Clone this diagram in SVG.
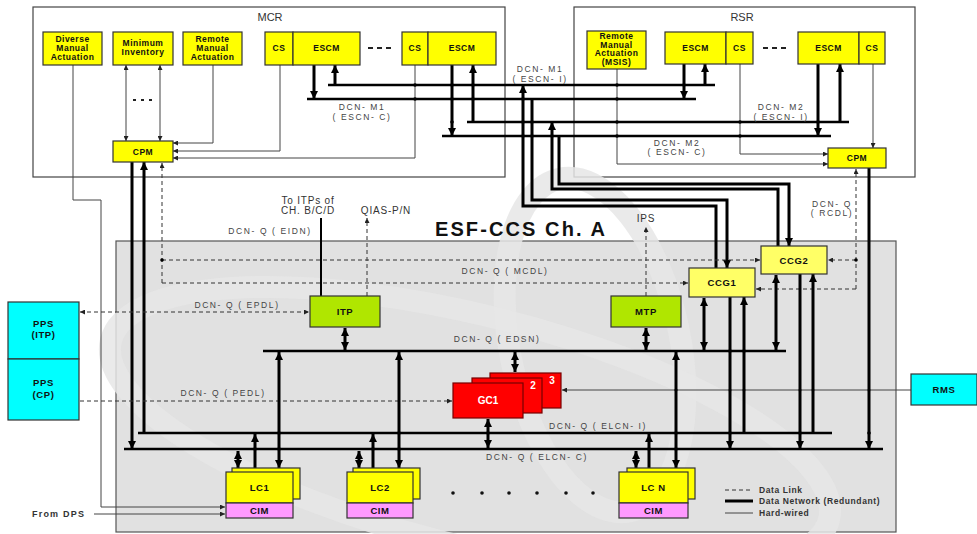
<svg xmlns="http://www.w3.org/2000/svg" width="977" height="534" viewBox="0 0 977 534">
<defs>
<marker id="ah" viewBox="0 0 10 10" refX="10" refY="5" markerWidth="8" markerHeight="8" markerUnits="userSpaceOnUse" orient="auto-start-reverse"><path d="M0,0L10,5L0,10z" fill="#000"/></marker>
<marker id="as" viewBox="0 0 10 10" refX="10" refY="5" markerWidth="5" markerHeight="5" markerUnits="userSpaceOnUse" orient="auto-start-reverse"><path d="M0,0L10,5L0,10z" fill="#222"/></marker>
</defs>
<style>
text{font-family:"Liberation Sans",Arial,sans-serif}
.frame{fill:#fff;stroke:#444;stroke-width:1.2}
.y{fill:#ffff00;stroke:#333;stroke-width:1.2}
.ly{fill:#ffff66;stroke:#333;stroke-width:1.2}
.g{fill:#b0e600;stroke:#333;stroke-width:1.2}
.c{fill:#00ffff;stroke:#333;stroke-width:1.2}
.r{fill:#ff0000;stroke:#700;stroke-width:1.2}
.p{fill:#ff99ff;stroke:#333;stroke-width:1.2}
.bt{font-size:8.5px;font-weight:bold;fill:#111;text-anchor:middle;letter-spacing:0.5px}
.bt2{font-size:9.5px;font-weight:bold;fill:#111;text-anchor:middle;letter-spacing:0.6px}
.wt{font-size:10px;font-weight:bold;fill:#fff;text-anchor:middle}
.lb{font-size:8.5px;fill:#444;text-anchor:middle;letter-spacing:1.6px}
.tl{font-size:10px;fill:#333;text-anchor:middle;letter-spacing:0.8px}
.lg{font-size:8.5px;font-weight:bold;fill:#333;letter-spacing:0.6px}
.tk{stroke:#000;stroke-width:3;fill:none}
.bus{stroke:#000;stroke-width:2.5;fill:none}
.tn{stroke:#444;stroke-width:1;fill:none}
.ds{stroke:#333;stroke-width:1;fill:none;stroke-dasharray:4 3}
.ae{marker-end:url(#ah)}
.as{marker-start:url(#ah)}
.ab{marker-start:url(#ah);marker-end:url(#ah)}
.se{marker-end:url(#as)}
.sb{marker-start:url(#as);marker-end:url(#as)}
.wm{fill:none;stroke:#e6e6e6;stroke-width:22;opacity:0.85}
</style>
<rect x="0" y="0" width="977" height="534" fill="#fff"/>

<g id="frames">
<rect class="frame" x="33" y="7" width="472" height="170"/>
<rect class="frame" x="574" y="7" width="341" height="170"/>
<rect x="116" y="241" width="780" height="291" fill="#e1e1e1" stroke="#555" stroke-width="1.2"/>
<text x="270" y="21" font-size="11" fill="#333" text-anchor="middle">MCR</text>
<text x="742" y="21" font-size="11" fill="#333" text-anchor="middle">RSR</text>
</g>

<g id="watermark">
<ellipse class="wm" cx="595" cy="345" rx="85" ry="170" transform="rotate(-12 595 345)"/>
<ellipse class="wm" cx="470" cy="430" rx="370" ry="115" transform="rotate(14 470 430)"/>
</g>

<text x="520" y="236" font-size="20" font-weight="bold" fill="#111" text-anchor="middle" textLength="170" lengthAdjust="spacing">ESF-CCS Ch. A</text>

<g id="connectors">
<polyline class="tn se" points="73,65 73,200 101,200 101,507 225,507"/>
<line class="tn sb" x1="126" y1="65" x2="126" y2="141"/>
<line class="tn sb" x1="160" y1="65" x2="160" y2="141"/>
<line x1="133" y1="100" x2="156" y2="100" stroke="#222" stroke-width="2" stroke-dasharray="3 5"/>
<polyline class="tn se" points="213,65 213,143 173,143"/>
<polyline class="tn se" points="280,65 280,151 173,151"/>
<polyline class="tn se" points="415,65 415,158 173,158"/>
<line class="tk ae" x1="314" y1="65" x2="314" y2="99"/>
<line class="tk ae" x1="335" y1="85" x2="335" y2="65"/>
<line class="tk ae" x1="452" y1="65" x2="452" y2="136"/>
<line class="tk ae" x1="473" y1="122" x2="473" y2="65"/>
<line x1="368" y1="48" x2="393" y2="48" stroke="#222" stroke-width="2" stroke-dasharray="5 4"/>
<line x1="763" y1="48" x2="788" y2="48" stroke="#222" stroke-width="2" stroke-dasharray="5 4"/>
<line class="bus" x1="328" y1="85" x2="715" y2="85"/>
<line class="bus" x1="307" y1="99" x2="696" y2="99"/>
<line class="bus" x1="467" y1="122" x2="849" y2="122"/>
<line class="bus" x1="442" y1="136" x2="831" y2="136"/>
<polyline class="tn se" points="617,69 617,164 828,164"/>
<polyline class="tn se" points="740,64 740,154 828,154"/>
<line class="tn se" x1="873" y1="64" x2="873" y2="148"/>
<line class="tk ae" x1="684" y1="64" x2="684" y2="99"/>
<line class="tk ae" x1="705" y1="85" x2="705" y2="64"/>
<line class="tk ae" x1="818" y1="64" x2="818" y2="136"/>
<line class="tk ae" x1="840" y1="122" x2="840" y2="64"/>
<polyline class="tk as" points="523,85 523,206 716,206 716,268"/>
<polyline class="tk ae" points="532,99 532,200 727,200 727,268"/>
<polyline class="tk as" points="552,122 552,189 778,189 778,246"/>
<polyline class="tk ae" points="559,136 559,184 789,184 789,246"/>
<line class="tk ae" x1="132" y1="162" x2="132" y2="449"/>
<line class="tk ae" x1="144" y1="433" x2="144" y2="162"/>
<line class="tk ae" x1="869" y1="168" x2="869" y2="449"/>
<line class="ds se" x1="162" y1="283" x2="162" y2="163"/>
<line class="ds se" x1="162" y1="283" x2="688" y2="283"/>
<line class="ds se" x1="162" y1="260" x2="760" y2="260"/>
<line class="ds se" x1="856" y1="289" x2="856" y2="169"/>
<line class="ds se" x1="856" y1="289" x2="756" y2="289"/>
<line class="ds se" x1="856" y1="260" x2="828" y2="260"/>
<line x1="321" y1="218" x2="321" y2="296" stroke="#000" stroke-width="2"/>
<line class="ds se" x1="367" y1="296" x2="367" y2="218"/>
<line class="ds sb" x1="80" y1="312" x2="309" y2="312"/>
<line class="ds se" x1="80" y1="401" x2="452" y2="401"/>
<line class="ds se" x1="646" y1="296" x2="646" y2="227"/>
<line class="bus" x1="263" y1="351" x2="786" y2="351"/>
<line class="bus" x1="138" y1="433" x2="832" y2="433"/>
<line class="bus" x1="124" y1="449" x2="883" y2="449"/>
<line class="tk ab" x1="345" y1="328" x2="345" y2="350"/>
<line class="tk ab" x1="646" y1="328" x2="646" y2="350"/>
<line class="tk ab" x1="704" y1="298" x2="704" y2="350"/>
<line class="tk ab" x1="776" y1="275" x2="776" y2="350"/>
<line class="tk ab" x1="515" y1="352" x2="515" y2="372"/>
<line class="tk ab" x1="488" y1="419" x2="488" y2="448"/>
<line class="tk ae" x1="730" y1="297" x2="730" y2="449"/>
<line class="tk ae" x1="744" y1="433" x2="744" y2="297"/>
<line class="tk ae" x1="800" y1="274" x2="800" y2="449"/>
<line class="tk ae" x1="813" y1="433" x2="813" y2="274"/>
<line class="tn se" x1="911" y1="390" x2="562" y2="390"/>
<line class="tk ab" x1="238" y1="451" x2="238" y2="468"/>
<line class="tk ae" x1="255" y1="468" x2="255" y2="434"/>
<line class="tk ab" x1="279" y1="352" x2="279" y2="468"/>
<line class="tk ab" x1="359" y1="451" x2="359" y2="468"/>
<line class="tk ae" x1="373" y1="468" x2="373" y2="434"/>
<line class="tk ab" x1="399" y1="352" x2="399" y2="468"/>
<line class="tk ab" x1="636" y1="451" x2="636" y2="468"/>
<line class="tk ae" x1="649" y1="468" x2="649" y2="434"/>
<line class="tk ab" x1="676" y1="352" x2="676" y2="468"/>
<line class="tn se" x1="94" y1="514" x2="225" y2="514"/>
<g fill="#000">
<circle cx="415" cy="85" r="1.8"/><circle cx="415" cy="99" r="1.8"/>
<circle cx="452" cy="85" r="1.8"/><circle cx="452" cy="99" r="1.8"/><circle cx="452" cy="122" r="1.8"/>
<circle cx="473" cy="85" r="1.8"/><circle cx="473" cy="99" r="1.8"/>
<circle cx="617" cy="85" r="1.8"/><circle cx="617" cy="99" r="1.8"/><circle cx="617" cy="122" r="1.8"/><circle cx="617" cy="136" r="1.8"/>
<circle cx="740" cy="122" r="1.8"/><circle cx="740" cy="136" r="1.8"/>
<circle cx="684" cy="85" r="1.8"/><circle cx="818" cy="122" r="1.8"/>
<circle cx="523" cy="99" r="1.8"/><circle cx="523" cy="122" r="1.8"/><circle cx="523" cy="136" r="1.8"/>
<circle cx="532" cy="122" r="1.8"/><circle cx="532" cy="136" r="1.8"/><circle cx="552" cy="136" r="1.8"/>
<circle cx="162" cy="260" r="1.8"/><circle cx="856" cy="260" r="1.8"/>
<circle cx="730" cy="351" r="1.8"/><circle cx="744" cy="351" r="1.8"/>
<circle cx="279" cy="433" r="1.8"/><circle cx="399" cy="433" r="1.8"/><circle cx="676" cy="433" r="1.8"/>
<circle cx="730" cy="433" r="1.8"/><circle cx="800" cy="433" r="1.8"/><circle cx="869" cy="433" r="1.8"/><circle cx="488" cy="433" r="1.8"/>
<circle cx="255" cy="449" r="1.8"/><circle cx="373" cy="449" r="1.8"/><circle cx="649" cy="449" r="1.8"/>
<circle cx="279" cy="449" r="1.8"/><circle cx="399" cy="449" r="1.8"/><circle cx="676" cy="449" r="1.8"/>
<circle cx="676" cy="390" r="1.5"/><circle cx="730" cy="390" r="1.5"/><circle cx="744" cy="390" r="1.5"/>
<circle cx="800" cy="390" r="1.5"/><circle cx="813" cy="390" r="1.5"/><circle cx="869" cy="390" r="1.5"/>
</g>
</g>

<g id="labels">
<text class="lb" x="540" y="72">DCN- M1</text>
<text class="lb" x="540" y="82">( ESCN- I)</text>
<text class="lb" x="362" y="110">DCN- M1</text>
<text class="lb" x="362" y="120">( ESCN- C)</text>
<text class="lb" x="781" y="110">DCN- M2</text>
<text class="lb" x="781" y="120">( ESCN- I)</text>
<text class="lb" x="677" y="146">DCN- M2</text>
<text class="lb" x="677" y="155">( ESCN- C)</text>
<text class="lb" x="832" y="207">DCN- Q</text>
<text class="lb" x="832" y="216">( RCDL)</text>
<text class="lb" x="270" y="234">DCN- Q ( EIDN)</text>
<text class="tl" x="308" y="204">To ITPs of</text>
<text class="tl" x="308" y="214">CH. B/C/D</text>
<text class="tl" x="386" y="214">QIAS-P/N</text>
<text class="tl" x="646" y="222">IPS</text>
<text class="lb" x="505" y="274">DCN- Q ( MCDL)</text>
<text class="lb" x="237" y="308">DCN- Q ( EPDL)</text>
<text class="lb" x="497" y="342">DCN- Q ( EDSN)</text>
<text class="lb" x="223" y="396">DCN- Q ( PEDL)</text>
<text class="lb" x="598" y="429">DCN- Q ( ELCN- I)</text>
<text class="lb" x="537" y="460">DCN- Q ( ELCN- C)</text>
<text x="32" y="517" font-size="9" font-weight="bold" fill="#333" letter-spacing="1.2">From DPS</text>
</g>

<g id="n-diverse"><rect class="y" x="43" y="32" width="59" height="33"/>
<text class="bt" x="72.5" y="42">Diverse</text><text class="bt" x="72.5" y="51">Manual</text><text class="bt" x="72.5" y="60">Actuation</text></g>
<g id="n-mininv"><rect class="y" x="113" y="32" width="60" height="33"/>
<text class="bt" x="143" y="46">Minimum</text><text class="bt" x="143" y="55">Inventory</text></g>
<g id="n-rma"><rect class="y" x="183" y="32" width="59" height="33"/>
<text class="bt" x="212.5" y="42">Remote</text><text class="bt" x="212.5" y="51">Manual</text><text class="bt" x="212.5" y="60">Actuation</text></g>
<g id="n-cs1"><rect class="y" x="265" y="32" width="28" height="33"/><text class="bt" x="279" y="51">CS</text></g>
<g id="n-escm1"><rect class="y" x="293" y="32" width="67" height="33"/><text class="bt" x="326.5" y="51">ESCM</text></g>
<g id="n-cs2"><rect class="y" x="402" y="32" width="26" height="33"/><text class="bt" x="415" y="51">CS</text></g>
<g id="n-escm2"><rect class="y" x="428" y="32" width="68" height="33"/><text class="bt" x="462" y="51">ESCM</text></g>
<g id="n-cpm-mcr"><rect class="y" x="113" y="141" width="60" height="21"/><text class="bt" x="143" y="154.5">CPM</text></g>

<g id="n-msis"><rect class="y" x="587" y="31" width="59" height="38"/>
<text class="bt" x="616.5" y="39">Remote</text><text class="bt" x="616.5" y="47.5">Manual</text><text class="bt" x="616.5" y="56">Actuation</text><text class="bt" x="616.5" y="64.5">(MSIS)</text></g>
<g id="n-escm3"><rect class="y" x="665" y="32" width="61" height="32"/><text class="bt" x="695.5" y="51">ESCM</text></g>
<g id="n-cs3"><rect class="y" x="726" y="32" width="27" height="32"/><text class="bt" x="739.5" y="51">CS</text></g>
<g id="n-escm4"><rect class="y" x="798" y="32" width="61" height="32"/><text class="bt" x="828.5" y="51">ESCM</text></g>
<g id="n-cs4"><rect class="y" x="859" y="32" width="26" height="32"/><text class="bt" x="872" y="51">CS</text></g>
<g id="n-cpm-rsr"><rect class="y" x="828" y="148" width="58" height="20"/><text class="bt" x="857" y="161">CPM</text></g>

<g id="n-itp"><rect class="g" x="310" y="296" width="70" height="31"/><text class="bt2" x="345" y="315">ITP</text></g>
<g id="n-mtp"><rect class="g" x="611" y="296" width="70" height="31"/><text class="bt2" x="646" y="315">MTP</text></g>
<g id="n-ccg1"><rect class="ly" x="689" y="268" width="66" height="29"/><text class="bt2" x="722" y="286">CCG1</text></g>
<g id="n-ccg2"><rect class="ly" x="761" y="246" width="66" height="28"/><text class="bt2" x="794" y="264">CCG2</text></g>

<g id="n-gc">
<rect class="r" x="490" y="373" width="71" height="35"/><text class="wt" x="552" y="384">3</text>
<rect class="r" x="472" y="378" width="70" height="35"/><text class="wt" x="533" y="389">2</text>
<rect class="r" x="453" y="383" width="70" height="35"/><text class="wt" x="488" y="404">GC1</text>
</g>

<g id="n-rms"><rect class="c" x="911" y="374" width="66" height="31"/><text class="bt2" x="944" y="393">RMS</text></g>
<g id="n-pps-itp"><rect class="c" x="8" y="302" width="71" height="57"/><text class="bt2" x="43.5" y="327">PPS</text><text class="bt2" x="43.5" y="338">(ITP)</text></g>
<g id="n-pps-cp"><rect class="c" x="8" y="359" width="71" height="61"/><text class="bt2" x="43.5" y="386">PPS</text><text class="bt2" x="43.5" y="398">(CP)</text></g>

<g id="n-lc1"><rect class="y" x="232" y="468" width="68" height="31"/><rect class="y" x="226" y="472" width="67" height="31"/><text class="bt2" x="259.5" y="491">LC1</text>
<rect class="p" x="226" y="503" width="67" height="15"/><text class="bt2" x="259.5" y="514">CIM</text></g>
<g id="n-lc2"><rect class="y" x="353" y="468" width="67" height="31"/><rect class="y" x="347" y="472" width="66" height="31"/><text class="bt2" x="380" y="491">LC2</text>
<rect class="p" x="347" y="503" width="66" height="15"/><text class="bt2" x="380" y="514">CIM</text></g>
<g id="n-lcn"><rect class="y" x="627" y="468" width="68" height="31"/><rect class="y" x="619" y="472" width="69" height="31"/><text class="bt2" x="653.5" y="491">LC N</text>
<rect class="p" x="619" y="503" width="69" height="15"/><text class="bt2" x="653.5" y="514">CIM</text></g>

<g id="ellipsis" fill="#111">
<circle cx="453" cy="493" r="1.8"/><circle cx="482" cy="493" r="1.8"/><circle cx="509" cy="493" r="1.8"/>
<circle cx="537" cy="493" r="1.8"/><circle cx="566" cy="493" r="1.8"/><circle cx="593" cy="493" r="1.8"/>
</g>

<g id="legend">
<line class="ds" x1="725" y1="490" x2="753" y2="490"/>
<line stroke="#000" stroke-width="3" x1="725" y1="501" x2="753" y2="501"/>
<line class="tn" x1="725" y1="513" x2="753" y2="513"/>
<text class="lg" x="759" y="493">Data Link</text>
<text class="lg" x="759" y="504">Data Network (Redundant)</text>
<text class="lg" x="759" y="516">Hard-wired</text>
</g>
</svg>
